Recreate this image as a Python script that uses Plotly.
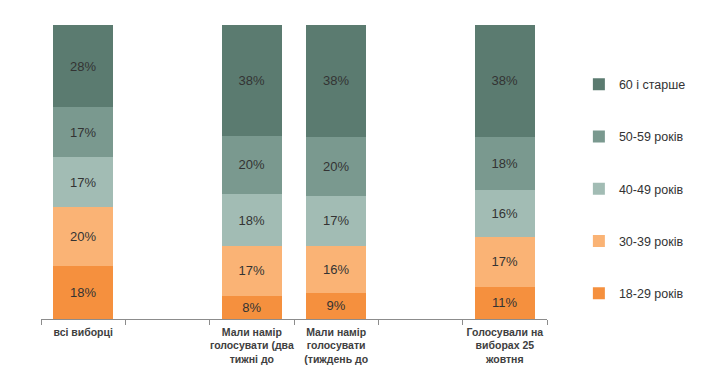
import plotly.graph_objects as go

categories = [
    "всі виборці",
    "Мали намір<br>голосувати (два<br>тижні до",
    "Мали намір<br>голосувати<br>(тиждень до",
    "Голосували на<br>виборах 25<br>жовтня",
]
spacers = [" ", "  "]
axis_order = [categories[0], spacers[0], categories[1], categories[2], spacers[1], categories[3]]

series_names = ["18-29 років", "30-39 років", "40-49 років", "50-59 років", "60 і старше"]
age_18_29 = [18, 8, 9, 11]
age_30_39 = [20, 17, 16, 17]
age_40_49 = [17, 18, 17, 16]
age_50_59 = [17, 20, 20, 18]
age_60_plus = [28, 38, 38, 38]
series_values = [age_18_29, age_30_39, age_40_49, age_50_59, age_60_plus]
colors = ["#f5903e", "#fab375", "#a2bcb4", "#7a998f", "#5b7b70"]

fig = go.Figure()
n = len(series_names)
for i, (name, vals, col) in enumerate(zip(series_names, series_values, colors)):
    fig.add_trace(go.Bar(
        x=categories, y=vals, name=name, marker=dict(color=col, line=dict(width=0)),
        text=[f"{v}%" for v in vals], textposition="inside", insidetextanchor="middle",
        textfont=dict(family="Liberation Sans, Arial, sans-serif", size=13, color="#333333"),
        legendgroup=name, legendrank=n - i,
    ))

fig.update_layout(
    barmode="stack", barnorm="percent", bargap=0.29,
    width=712, height=362,
    margin=dict(l=33, r=173, t=17, b=51, autoexpand=False),
    paper_bgcolor="white", plot_bgcolor="white",
    font=dict(family="Liberation Sans, Arial, sans-serif", color="#333333"),
    legend=dict(
        x=1.063, y=0.848, xanchor="left", yanchor="top",
        traceorder="grouped", tracegroupgap=33,
        font=dict(size=12.5, color="#333333"),
        itemwidth=30, bgcolor="rgba(0,0,0,0)",
    ),
    xaxis=dict(
        type="category", categoryorder="array", categoryarray=axis_order,
        tickson="boundaries", ticks="outside", ticklen=5, tickcolor="#8c8c8c",
        showline=True, linecolor="#8c8c8c", linewidth=1, tickangle=0, automargin=False,
        ticklabelstandoff=3,
        tickfont=dict(size=10.5, color="#404040", family="Liberation Sans, Arial, sans-serif"),
        showgrid=False,
    ),
    yaxis=dict(range=[0, 100], visible=False, showgrid=False),
)
fig.update_xaxes(tickprefix="<b>", ticksuffix="</b>")

fig.write_html("out.html")
